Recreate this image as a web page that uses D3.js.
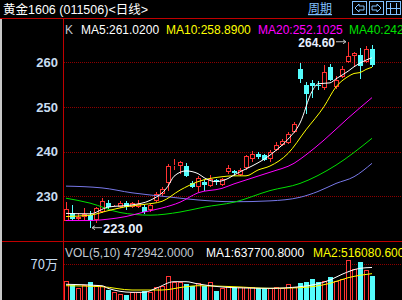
<!DOCTYPE html>
<html>
<head>
<meta charset="utf-8">
<script src="https://cdn.jsdelivr.net/npm/d3@7"></script>
<style>
body{margin:0;background:#000;overflow:hidden}
text{font-family:"Liberation Sans",Arial,"Noto Sans CJK SC",sans-serif}
</style>
</head>
<body>
<svg id="chart"></svg>
<script>
// daily candles, index 0..51
const open = [224.6,226.2,225.0,225.3,225.8,224.7,226.6,228.6,228.0,227.7,
  228.5,227.6,227.7,227.7,226.9,229.0,230.5,233.1,236.9,236.9,
  236.8,233.1,232.0,233.3,232.4,233.6,232.5,235.5,235.7,234.8,
  236.3,238.3,239.5,239.3,238.4,240.4,241.5,242.0,244.5,258.4,
  254.9,255.3,255.0,254.3,258.9,254.4,256.7,260.1,261.3,261.6,
  260.1,263.0];
const close = [227.1,224.9,225.5,226.0,224.5,227.3,229.0,227.6,228.2,228.6,
  227.6,228.5,228.4,226.6,228.0,230.5,231.6,236.8,237.1,237.6,
  234.6,232.2,234.1,232.5,233.8,233.4,233.8,236.3,235.2,236.0,
  239.0,239.5,238.8,238.2,240.0,241.5,242.5,243.9,246.1,256.2,
  252.9,254.6,254.8,257.9,256.0,256.0,258.5,261.4,262.0,259.2,
  263.0,259.5];
const high = [228.8,228.1,226.3,227.3,226.7,227.6,229.6,229.2,228.4,228.9,
  228.9,228.7,229.3,228.0,228.3,230.9,232.0,237.2,238.3,238.0,
  237.4,233.4,234.6,233.7,234.8,234.0,234.1,237.1,235.8,236.3,
  239.3,240.1,240.0,239.5,240.4,242.2,242.9,244.3,246.6,259.8,
  255.5,256.1,255.9,259.4,259.6,256.9,259.1,264.6,262.4,263.1,
  263.7,263.9];
const low = [224.4,224.6,224.7,224.8,223.0,224.0,226.3,227.2,227.8,227.5,
  226.9,227.4,227.5,226.0,226.6,228.7,230.2,231.1,235.9,235.1,
  234.4,231.9,230.9,231.3,232.2,232.6,232.3,235.0,234.6,234.6,
  236.0,237.8,238.3,237.9,237.6,240.2,241.2,241.8,244.2,255.4,
  248.4,252.1,253.9,253.7,255.8,254.1,256.4,259.8,259.0,256.2,
  259.8,259.0];
// volume in thousands
const volume = [372,300,229,294,347,294,280,196,150,111,
  98,150,163,176,150,261,280,476,359,359,
  307,280,327,280,347,176,229,280,248,248,
  261,248,229,229,229,250,229,307,260,330,
  350,420,360,380,460,380,420,780,610,745,
  580.562,472.942];

// moving averages at sample candles
const ma5Idx = [0,4,7,11,14,17,18,20,22,23,25,27,28,31,33,35,37,39,41,42,44,45,47,48,50,51];
const ma5Val = [226.2,226.1,227.6,228.1,229.1,232.3,234.5,235.7,235.1,234.2,233.3,234.0,234.8,236.8,238.3,240.3,242.8,246.4,253.5,255.2,255.4,256.3,258.0,259.0,260.5,261.02];
const ma10Idx = [0,4,7,10,13,16,19,22,26,28,30,32,34,37,40,43,45,47,48,49,50,51];
const ma10Val = [225.5,225.8,226.8,227.7,228.2,228.9,231.4,233.3,234.4,234.6,234.6,235.9,236.8,239.6,244.9,250.1,254.5,256.8,257.5,257.7,258.4,258.89];
const ma20Idx = [0,4,7,10,13,16,19,22,26,28,34,38,40,43,47,51];
const ma20Val = [224.6,224.6,224.9,225.5,226.5,227.4,228.7,230.8,231.8,232.8,235.4,237.4,239.3,242.6,247.5,252.10];
const ma40Idx = [0,4,9,14,19,23,28,34,39,45,51];
const ma40Val = [229.6,228.5,226.4,225.8,226.5,227.6,228.7,231.3,232.9,237.0,243.0];
const ma60Idx = [0,6,11,17,22,28,34,39,42,45,48,51];
const ma60Val = [232.3,231.9,230.8,229.9,229.2,228.8,229.0,229.8,231.1,232.9,234.4,237.4];
const vma5Idx = [0,6,7,11,13,15,18,20,22,28,34,39,44,46,49,51];
const vma5Val = [308,280,229,151,151,229,359,359,315,241,229,261,392,504,621,637.7];
const vma10Idx = [0,6,11,16,20,22,28,34,39,44,47,51];
const vma10Val = [280,261,196,196,261,280,261,229,241,327,437,516.08];

const priceTicks = [260,250,240,230];
const volTicks = [700];
const volTickLabels = ['70万'];

const width = 402, height = 300;
const svg = d3.select('#chart').attr('width', width).attr('height', height)
  .style('background', '#000');

const x = d3.scaleLinear().domain([0, 51]).range([66, 372]);
const y = d3.scaleLinear().domain([230, 260]).range([196.4, 62.3]);
const yv = d3.scaleLinear().domain([0, 700]).range([300, 264.3]);

const RED = '#ff3232', CYAN = '#54fcfc';

// frame
svg.append('rect').attr('x', 0).attr('y', 18).attr('width', 2).attr('height', 282).attr('fill', '#c8c8c8');
svg.append('line').attr('x1', 0).attr('x2', width).attr('y1', 18.5).attr('y2', 18.5).attr('stroke', '#c00000');
svg.append('line').attr('x1', 63.5).attr('x2', 63.5).attr('y1', 18).attr('y2', height).attr('stroke', '#c00000');
svg.append('line').attr('x1', 2).attr('x2', width).attr('y1', 241.5).attr('y2', 241.5).attr('stroke', '#c00000');

// title bar
svg.append('text').attr('x', 3).attr('y', 14).attr('fill', '#fff').style('font-size', '12.5px')
  .text('黄金1606 (011506)<日线>');
svg.append('text').attr('x', 308).attr('y', 13).attr('fill', '#80c0ff').style('font-size', '12px')
  .style('font-family', '"Noto Sans CJK SC",sans-serif').style('text-decoration', 'underline').text('周期');
const icons = [352, 369, 386];
icons.forEach(x0 => {
  svg.append('rect').attr('x', x0 + 0.5).attr('y', 1.5).attr('width', 14).attr('height', 13)
    .attr('fill', 'none').attr('stroke', '#80c0ff');
});
svg.append('path').attr('d', 'M355,8 L359,4 L359,6 L364,6 L364,10 L359,10 L359,12 Z').attr('fill', 'none').attr('stroke', '#80c0ff');
svg.append('path').attr('d', 'M381,8 L377,4 L377,6 L372,6 L372,10 L377,10 L377,12 Z').attr('fill', 'none').attr('stroke', '#80c0ff');
svg.append('path').attr('d', 'M390.5,3 V14 M396.5,3 V14 M386,8.5 H400').attr('stroke', '#80c0ff');

// grid lines
svg.selectAll('.pgrid').data(priceTicks).join('line')
  .attr('x1', 64).attr('x2', width)
  .attr('y1', d => Math.round(y(d)) + 0.5).attr('y2', d => Math.round(y(d)) + 0.5)
  .attr('stroke', '#8c0000').attr('stroke-dasharray', '1,1');
svg.selectAll('.vgrid').data(volTicks).join('line')
  .attr('x1', 64).attr('x2', width)
  .attr('y1', d => Math.round(yv(d)) + 0.5).attr('y2', d => Math.round(yv(d)) + 0.5)
  .attr('stroke', '#8c0000').attr('stroke-dasharray', '1,1');

// axis labels
const yAxis = d3.axisLeft(y).tickValues(priceTicks).tickSize(0).tickPadding(0);
const ga = svg.append('g').attr('transform', 'translate(58,0)').call(yAxis);
ga.select('.domain').remove();
ga.selectAll('text').attr('fill', '#c8dcf0').style('font-size', '13px').style('font-weight', 'bold')
  .style('font-family', '"Liberation Sans",Arial,sans-serif');
const vAxis = d3.axisLeft(yv).tickValues(volTicks).tickFormat((d, i) => volTickLabels[i]).tickSize(0).tickPadding(0);
const gv = svg.append('g').attr('transform', 'translate(58,0)').call(vAxis);
gv.select('.domain').remove();
gv.selectAll('text').attr('fill', '#c8dcf0').style('font-size', '13px')
  .style('font-family', '"Noto Sans CJK SC","Liberation Sans",sans-serif');

// candles
const idx = d3.range(open.length);
const cg = svg.append('g').attr('shape-rendering', 'crispEdges');
idx.forEach(i => {
  const cx = Math.round(x(i)) + 0.5;
  const up = close[i] >= open[i];
  const col = up ? RED : CYAN;
  const top = Math.round(y(Math.max(open[i], close[i])));
  const bot = Math.max(top + 1, Math.round(y(Math.min(open[i], close[i]))));
  cg.append('line').attr('x1', cx).attr('x2', cx).attr('y1', y(high[i])).attr('y2', top).attr('stroke', col);
  cg.append('line').attr('x1', cx).attr('x2', cx).attr('y1', bot).attr('y2', y(low[i])).attr('stroke', col);
  if (up) {
    cg.append('rect').attr('x', cx - 2).attr('y', top + 0.5).attr('width', 4).attr('height', Math.max(0, bot - top - 1))
      .attr('fill', '#000').attr('stroke', col);
  } else {
    cg.append('rect').attr('x', cx - 2.5).attr('y', top).attr('width', 5).attr('height', Math.max(1, bot - top))
      .attr('fill', col);
  }
});

// volume bars
const vg = svg.append('g').attr('shape-rendering', 'crispEdges');
idx.forEach(i => {
  const cx = Math.round(x(i)) + 0.5;
  const up = close[i] >= open[i];
  const top = Math.round(yv(volume[i]));
  if (up) {
    vg.append('rect').attr('x', cx - 2).attr('y', top + 0.5).attr('width', 4).attr('height', 300 - top)
      .attr('fill', '#000').attr('stroke', RED);
  } else {
    vg.append('rect').attr('x', cx - 2.5).attr('y', top).attr('width', 5).attr('height', 300 - top)
      .attr('fill', CYAN);
  }
});

// moving average lines
function maLine(ix, vals, scale, col) {
  const pts = ix.map((d, k) => [x(d), scale(vals[k])]);
  svg.append('path').attr('d', d3.line().curve(d3.curveMonotoneX)(pts))
    .attr('fill', 'none').attr('stroke', col).attr('stroke-width', 1);
}
maLine(ma60Idx, ma60Val, y, '#7878e8');
maLine(ma40Idx, ma40Val, y, '#00e000');
maLine(ma20Idx, ma20Val, y, '#ff00ff');
maLine(ma10Idx, ma10Val, y, '#ffff00');
maLine(ma5Idx, ma5Val, y, '#ffffff');
maLine(vma10Idx, vma10Val, yv, '#ffff00');
maLine(vma5Idx, vma5Val, yv, '#ffffff');

// legends
const legend = [
  {t: 'K', x: 65, c: '#c0c8d0'},
  {t: 'MA5:261.0200', x: 81, c: '#ffffff'},
  {t: 'MA10:258.8900', x: 166, c: '#ffff00'},
  {t: 'MA20:252.1025', x: 258, c: '#ff00ff'},
  {t: 'MA40:242.9800', x: 349, c: '#00e000'}
];
svg.selectAll('.lg').data(legend).join('text').attr('x', d => d.x).attr('y', 34)
  .attr('fill', d => d.c).style('font-size', '12px').text(d => d.t);
const vlegend = [
  {t: 'VOL(5,10) 472942.0000', x: 65, c: '#c0c8d0'},
  {t: 'MA1:637700.8000', x: 206, c: '#ffffff'},
  {t: 'MA2:516080.6000', x: 313, c: '#ffff00'}
];
svg.selectAll('.vlg').data(vlegend).join('text').attr('x', d => d.x).attr('y', 257)
  .attr('fill', d => d.c).style('font-size', '12px').text(d => d.t);

// high / low marks
const hi = d3.maxIndex(high), lo = d3.minIndex(low);
svg.append('text').attr('x', x(hi) - 13).attr('y', y(high[hi]) + 5).attr('text-anchor', 'end')
  .attr('fill', '#e8f0ff').style('font-size', '12px').style('font-weight', 'bold').text(high[hi].toFixed(2));
svg.append('path').attr('d', `M${x(hi) - 12},${y(high[hi])} H${x(hi) - 2} M${x(hi) - 5},${y(high[hi]) - 2} L${x(hi) - 2},${y(high[hi])} L${x(hi) - 5},${y(high[hi]) + 2}`)
  .attr('fill', 'none').attr('stroke', '#c0c0c0');
svg.append('text').attr('x', x(lo) + 13).attr('y', y(low[lo]) + 5)
  .attr('fill', '#e8f0ff').style('font-size', '13px').style('font-weight', 'bold').text(low[lo].toFixed(2));
svg.append('path').attr('d', `M${x(lo) + 2},${y(low[lo])} H${x(lo) + 12} M${x(lo) + 5},${y(low[lo]) - 2} L${x(lo) + 2},${y(low[lo])} L${x(lo) + 5},${y(low[lo]) + 2}`)
  .attr('fill', 'none').attr('stroke', '#c0c0c0');
</script>
</body>
</html>
